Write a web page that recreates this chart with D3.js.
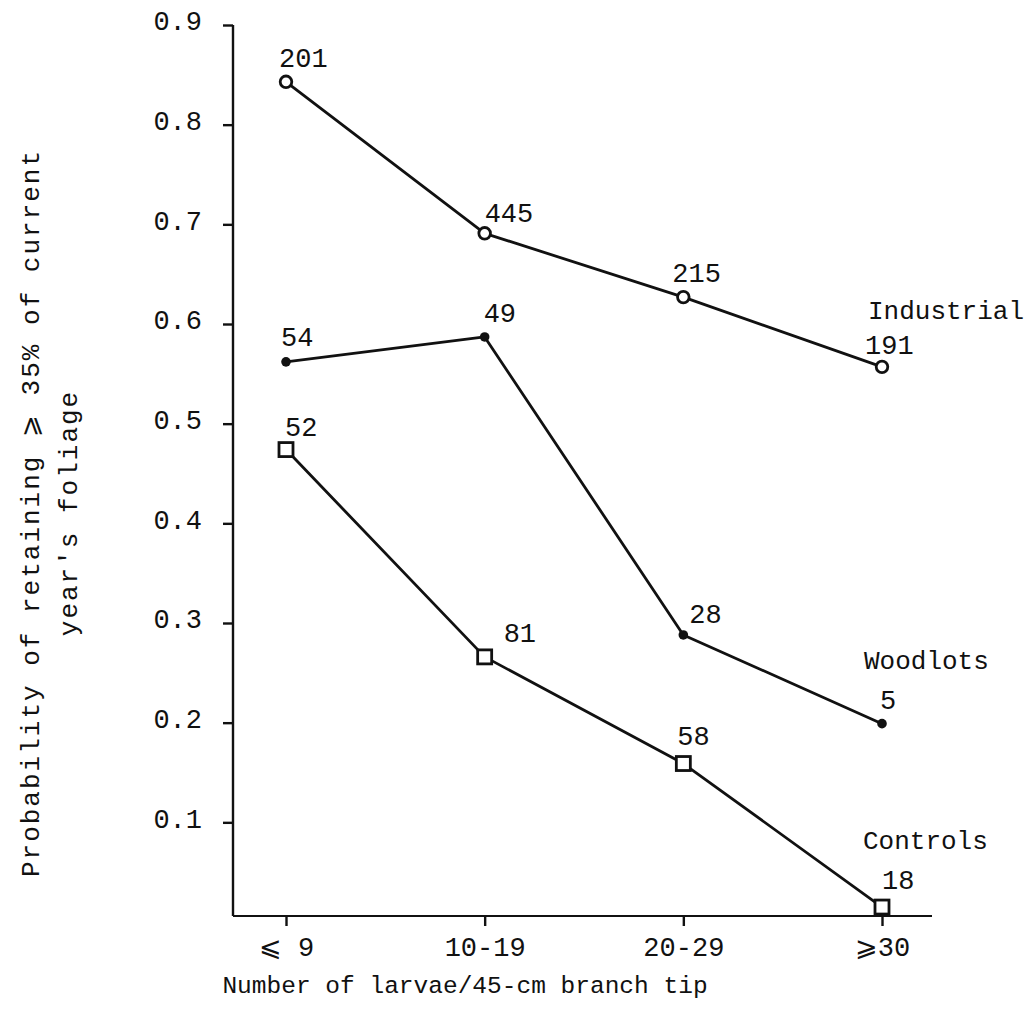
<!DOCTYPE html>
<html>
<head>
<meta charset="utf-8">
<script src="https://cdn.jsdelivr.net/npm/d3@7"></script>
<style>
  html, body { margin: 0; padding: 0; background: #fff; }
  svg { display: block; }
  text { font-family: "Liberation Mono", "DejaVu Sans Mono", monospace; fill: #111; }
</style>
</head>
<body>
<svg id="chart" width="1027" height="1015"></svg>
<script>
// Larval density classes on the x axis
const categories = ["\u2A7D 9", "10-19", "20-29", "\u2A7E30"];

// Probability of retaining >= 35% of current year's foliage, per stand type
const industrial = [0.843, 0.691, 0.627, 0.557];
const woodlots   = [0.562, 0.587, 0.288, 0.199];
const controls   = [0.474, 0.266, 0.159, 0.015];

// Sample sizes printed next to each point
const industrialN = [201, 445, 215, 191];
const woodlotsN   = [54, 49, 28, 5];
const controlsN   = [52, 81, 58, 18];

const seriesNames = ["Industrial", "Woodlots", "Controls"];
const yTicks = [0.1, 0.2, 0.3, 0.4, 0.5, 0.6, 0.7, 0.8, 0.9];

// ---- layout ----
const svg = d3.select("#chart");
const axisX = 233;       // left axis line
const axisBottom = 916;  // bottom axis line
const axisRight = 932;
const fontSize = 27;

const x = d3.scalePoint().domain(categories).range([286, 882]);
const y = d3.scaleLinear().domain([0, 0.9]).range([922, 25]);

// offsets of the sample-size labels from their points (left edge, baseline)
const labelOffsets = {
  Industrial: [[-7, -15], [0, -11], [-11, -15], [-17, -13]],
  Woodlots:   [[-5, -16], [-1, -15], [6, -12], [-2, -15]],
  Controls:   [[-1, -14], [19, -15], [-6, -19], [0, -18]]
};
// offsets of the series names from the last point of each series
const nameOffsets = { Industrial: [-14, -48], Woodlots: [-18, -55], Controls: [-19, -58] };

const series = [
  { name: seriesNames[0], values: industrial, n: industrialN, marker: "circle" },
  { name: seriesNames[1], values: woodlots,   n: woodlotsN,   marker: "dot" },
  { name: seriesNames[2], values: controls,   n: controlsN,   marker: "square" }
];

// ---- y axis ----
const yAxis = d3.axisLeft(y)
  .tickValues(yTicks)
  .tickFormat(d3.format(".1f"))
  .tickSize(10)
  .tickPadding(21)
  .tickSizeOuter(0);

const gy = svg.append("g").attr("transform", `translate(${axisX},0)`).call(yAxis);
gy.select(".domain").remove();
gy.selectAll(".tick line").attr("stroke", "#111").attr("stroke-width", 2.4);
gy.selectAll(".tick text")
  .attr("font-size", fontSize)
  .attr("font-family", "Liberation Mono")
  .attr("dy", "0.18em")
  .attr("fill", "#111");

svg.append("line")
  .attr("x1", axisX).attr("x2", axisX)
  .attr("y1", y(0.9)).attr("y2", axisBottom)
  .attr("stroke", "#111").attr("stroke-width", 2.4);

// ---- x axis ----
const xAxis = d3.axisBottom(x).tickSize(10).tickPadding(11).tickSizeOuter(0);
const gx = svg.append("g").attr("transform", `translate(0,${axisBottom})`).call(xAxis);
gx.select(".domain").remove();
gx.selectAll(".tick line").attr("stroke", "#111").attr("stroke-width", 2.4);
gx.selectAll(".tick text")
  .attr("font-size", fontSize)
  .attr("font-family", "Liberation Mono")
  .attr("fill", "#111");

svg.append("line")
  .attr("x1", axisX).attr("x2", axisRight)
  .attr("y1", axisBottom).attr("y2", axisBottom)
  .attr("stroke", "#111").attr("stroke-width", 2.2);

// ---- axis titles ----
svg.append("text")
  .attr("x", 465).attr("y", 993)
  .attr("text-anchor", "middle")
  .attr("font-size", 24.5)
  .text("Number of larvae/45-cm branch tip");

const yTitle = svg.append("g").attr("transform", "translate(0,513) rotate(-90)");
yTitle.append("text")
  .attr("x", 0).attr("y", 39)
  .attr("text-anchor", "middle")
  .attr("font-size", 26)
  .attr("letter-spacing", 2)
  .text("Probability of retaining \u2A7E 35% of current");
yTitle.append("text")
  .attr("x", 0).attr("y", 77)
  .attr("text-anchor", "middle")
  .attr("font-size", 26)
  .attr("letter-spacing", 2)
  .text("year's foliage");

// ---- series ----
const line = d3.line()
  .x((d, i) => x(categories[i]))
  .y(d => y(d));

series.forEach(s => {
  const g = svg.append("g");
  g.append("path")
    .datum(s.values)
    .attr("d", line)
    .attr("fill", "none")
    .attr("stroke", "#111")
    .attr("stroke-width", 2.8)
    .attr("stroke-linejoin", "round");

  const pts = g.selectAll(".pt").data(s.values).enter();
  if (s.marker === "circle") {
    pts.append("circle")
      .attr("cx", (d, i) => x(categories[i]))
      .attr("cy", d => y(d))
      .attr("r", 5.8)
      .attr("fill", "#fff").attr("stroke", "#111").attr("stroke-width", 2.8);
  } else if (s.marker === "dot") {
    pts.append("circle")
      .attr("cx", (d, i) => x(categories[i]))
      .attr("cy", d => y(d))
      .attr("r", 4.8)
      .attr("fill", "#111");
  } else {
    const side = 14;
    pts.append("rect")
      .attr("x", (d, i) => x(categories[i]) - side / 2)
      .attr("y", d => y(d) - side / 2)
      .attr("width", side).attr("height", side)
      .attr("fill", "#fff").attr("stroke", "#111").attr("stroke-width", 2.8);
  }

  // sample sizes
  g.selectAll(".n").data(s.n).enter().append("text")
    .attr("x", (d, i) => x(categories[i]) + labelOffsets[s.name][i][0])
    .attr("y", (d, i) => y(s.values[i]) + labelOffsets[s.name][i][1])
    .attr("font-size", fontSize)
    .text(d => d);

  // series name beside the last point
  const last = s.values.length - 1;
  g.append("text")
    .attr("x", x(categories[last]) + nameOffsets[s.name][0])
    .attr("y", y(s.values[last]) + nameOffsets[s.name][1])
    .attr("font-size", 26)
    .text(s.name);
});
</script>
</body>
</html>
